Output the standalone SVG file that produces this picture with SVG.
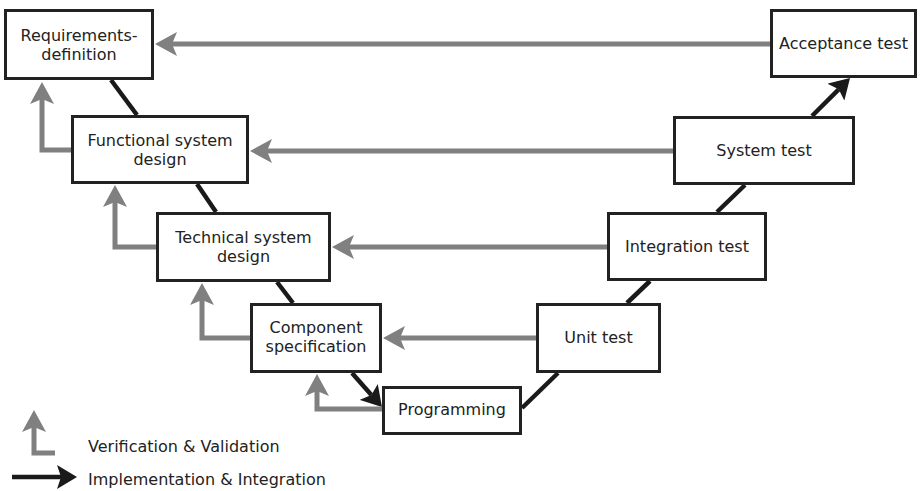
<svg xmlns="http://www.w3.org/2000/svg" width="921" height="491" viewBox="0 0 921 491">
  <style>
    .box { fill: #ffffff; stroke: #222222; stroke-width: 3; }
    .lbl { font-family: "DejaVu Sans", "Liberation Sans", sans-serif; font-size: 16px; fill: #222222; text-anchor: middle; }
    .leg { font-family: "DejaVu Sans", "Liberation Sans", sans-serif; font-size: 16px; fill: #222222; }
    .vv { fill: none; stroke: #808080; stroke-width: 5; marker-end: url(#grayHead); }
    .ii { fill: none; stroke: #1a1a1a; stroke-width: 4.5; }
    .iiA { fill: none; stroke: #1a1a1a; stroke-width: 4.5; marker-end: url(#blackHead); }
  </style>
  <defs>
    <!-- concave arrowheads; reference point sits in the notch so the line ends there -->
    <marker id="grayHead" viewBox="0 0 22 24" markerWidth="22" markerHeight="24" refX="5" refY="12" orient="auto" markerUnits="userSpaceOnUse">
      <path d="M22,12 L0,0 L5,12 L0,24 Z" fill="#808080"/>
    </marker>
    <marker id="blackHead" viewBox="0 0 20 24" markerWidth="20" markerHeight="24" refX="4" refY="12" orient="auto" markerUnits="userSpaceOnUse">
      <path d="M20,12 L0,0 L4,12 L0,24 Z" fill="#1a1a1a"/>
    </marker>
  </defs>

  <g id="connectors">
    <!-- implementation & integration path (black) -->
    <line class="ii" x1="111" y1="80" x2="137" y2="115"/>
    <line class="ii" x1="197" y1="184" x2="216" y2="212"/>
    <line class="ii" x1="277" y1="282" x2="293" y2="303"/>
    <line class="iiA" x1="352" y1="373" x2="371.4" y2="395"/>
    <line class="ii" x1="522" y1="408" x2="558" y2="373"/>
    <line class="ii" x1="627" y1="303" x2="650" y2="281"/>
    <line class="ii" x1="717" y1="212" x2="745" y2="185"/>
    <line class="iiA" x1="812" y1="116" x2="838.7" y2="89.3"/>

    <!-- verification & validation (gray), test level back to design level -->
    <line class="vv" x1="770" y1="44" x2="172" y2="44"/>
    <line class="vv" x1="673" y1="151" x2="267" y2="151"/>
    <line class="vv" x1="607" y1="247" x2="349" y2="247"/>
    <line class="vv" x1="536" y1="338" x2="400" y2="338"/>

    <!-- verification & validation, each design level back to the one above -->
    <path class="vv" d="M71,150 H42 V99"/>
    <path class="vv" d="M156,247 H115 V202"/>
    <path class="vv" d="M250,338 H202 V300"/>
    <path class="vv" d="M382,409 H317 V391"/>
  </g>

  <g id="requirements">
    <rect class="box" x="5.5" y="10.5" width="147" height="68"/>
    <text class="lbl" x="79" y="41">Requirements-</text>
    <text class="lbl" x="79" y="60">definition</text>
  </g>
  <g id="functional-design">
    <rect class="box" x="72.5" y="116.5" width="175" height="66"/>
    <text class="lbl" x="160" y="146">Functional system</text>
    <text class="lbl" x="160" y="165">design</text>
  </g>
  <g id="technical-design">
    <rect class="box" x="157.5" y="213.5" width="172" height="67"/>
    <text class="lbl" x="243.5" y="243">Technical system</text>
    <text class="lbl" x="243.5" y="262">design</text>
  </g>
  <g id="component-spec">
    <rect class="box" x="251.5" y="304.5" width="129" height="67"/>
    <text class="lbl" x="316" y="333">Component</text>
    <text class="lbl" x="316" y="352">specification</text>
  </g>
  <g id="programming">
    <rect class="box" x="383.5" y="387.5" width="137" height="46"/>
    <text class="lbl" x="452" y="415">Programming</text>
  </g>
  <g id="unit-test">
    <rect class="box" x="537.5" y="304.5" width="122" height="67"/>
    <text class="lbl" x="598.5" y="343">Unit test</text>
  </g>
  <g id="integration-test">
    <rect class="box" x="608.5" y="213.5" width="157" height="66"/>
    <text class="lbl" x="687" y="252">Integration test</text>
  </g>
  <g id="system-test">
    <rect class="box" x="674.5" y="117.5" width="179" height="66"/>
    <text class="lbl" x="764" y="156">System test</text>
  </g>
  <g id="acceptance-test">
    <rect class="box" x="771.5" y="10.5" width="144" height="66"/>
    <text class="lbl" x="843.5" y="49">Acceptance test</text>
  </g>

  <g id="legend">
    <path class="vv" d="M55,453 H34 V427"/>
    <text class="leg" x="88" y="452">Verification &amp; Validation</text>
    <line class="iiA" x1="12" y1="477" x2="61" y2="477"/>
    <text class="leg" x="88" y="485">Implementation &amp; Integration</text>
  </g>
</svg>
